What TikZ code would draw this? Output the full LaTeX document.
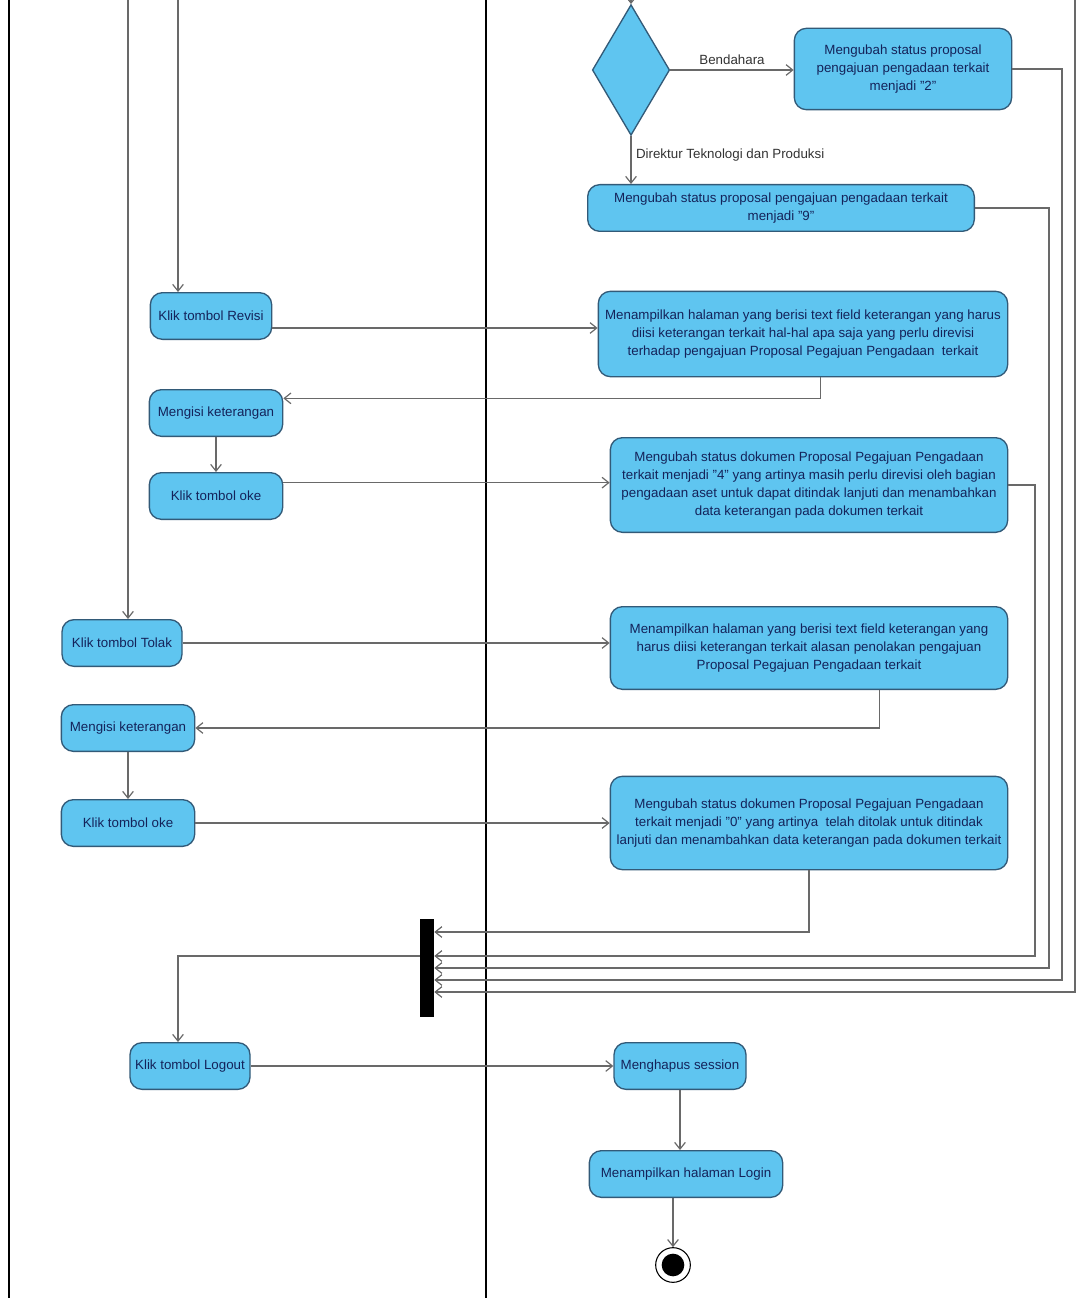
\documentclass[tikz,border=0pt]{standalone}
\usepackage{fontspec}
\setmainfont{Liberation Sans}
\usetikzlibrary{shapes.geometric,arrows.meta}
\definecolor{actfill}{RGB}{95,197,240}
\definecolor{actline}{RGB}{50,90,120}
\definecolor{acttext}{RGB}{20,35,90}
\definecolor{flowgray}{RGB}{105,105,105}
\tikzset{
  act/.style={draw=actline,fill=actfill,line width=1pt,rounded corners=9pt,
    text=acttext,font=\fontsize{10}{13.5}\selectfont,align=center,
    minimum height=35pt,inner sep=1pt},
  flow/.style={draw=flowgray,line width=0.9pt,-{Straight Barb[length=5pt,width=8pt]}},
  lane/.style={line width=1.4pt,black},
  guard/.style={font=\fontsize{10}{12}\selectfont,text=black!80}
}
\begin{document}
\begin{tikzpicture}[x=0.75pt,y=-0.75pt]
  \useasboundingbox (0,0) rectangle (1089,1298);
  \draw[lane] (9,0) -- (9,1298);
  \draw[lane] (486,0) -- (486,1298);

  % left lane
  \node[act,minimum width=91pt] (revisi) at (211,316) {Klik tombol Revisi};
  \node[act,minimum width=100pt] (isi1) at (216,413) {Mengisi keterangan};
  \node[act,minimum width=100pt] (oke1) at (216,496) {Klik tombol oke};
  \node[act,minimum width=90pt] (tolak) at (122,643) {Klik tombol Tolak};
  \node[act,minimum width=100pt] (isi2) at (128,728) {Mengisi keterangan};
  \node[act,minimum width=100pt] (oke2) at (128,823) {Klik tombol oke};
  \node[act,minimum width=90pt] (logout) at (190,1066) {Klik tombol Logout};

  % right lane
  \node[diamond,draw=actline,fill=actfill,line width=1pt,inner sep=0,
    minimum width=58pt,minimum height=98pt] (dec) at (631,70) {};
  \node[act,minimum width=163pt,minimum height=61pt] (box2) at (903,69)
    {Mengubah status proposal\\ pengajuan pengadaan terkait\\ menjadi "2"};
  \node[act,minimum width=290pt] (box9) at (781,208)
    {Mengubah status proposal pengajuan pengadaan terkait\\ menjadi "9"};
  \node[act,minimum width=307pt,minimum height=64pt] (revbox) at (803,334)
    {Menampilkan halaman yang berisi text field keterangan yang harus\\
     diisi keterangan terkait hal-hal apa saja yang perlu direvisi\\
     terhadap pengajuan Proposal Pegajuan Pengadaan\ \ terkait};
  \node[act,minimum width=298pt,minimum height=71pt] (box4) at (809,485)
    {Mengubah status dokumen Proposal Pegajuan Pengadaan\\
     terkait menjadi "4" yang artinya masih perlu direvisi oleh bagian\\
     pengadaan aset untuk dapat ditindak lanjuti dan menambahkan\\
     data keterangan pada dokumen terkait};
  \node[act,minimum width=298pt,minimum height=62pt] (tolbox) at (809,648)
    {Menampilkan halaman yang berisi text field keterangan yang\\
     harus diisi keterangan terkait alasan penolakan pengajuan\\
     Proposal Pegajuan Pengadaan terkait};
  \node[act,minimum width=298pt,minimum height=70pt] (box0) at (809,823)
    {Mengubah status dokumen Proposal Pegajuan Pengadaan\\
     terkait menjadi "0" yang artinya\ \ telah ditolak untuk ditindak\\
     lanjuti dan menambahkan data keterangan pada dokumen terkait};
  \node[act,minimum width=99pt] (hapus) at (680,1066) {Menghapus session};
  \node[act,minimum width=145pt] (login) at (686,1174) {Menampilkan halaman Login};
  \node[circle,draw=black,fill=white,line width=0.8pt,minimum size=26pt,inner sep=0] (final) at (673,1265) {};
  \fill[black] (final) circle (8.5pt);

  \node[fill=black,minimum width=10.5pt,minimum height=73pt,inner sep=0] (bar) at (427,968) {};

  % free ends coming from above
  \coordinate (inA) at (178,0);
  \coordinate (inB) at (128,0);
  \coordinate (inC) at (631,0);
  \coordinate (inD) at (1075,0);

  \draw[flow] (inA) -- (inA |- revisi.north);
  \draw[flow] (inB) -- (inB |- tolak.north);
  \draw[flow] (inC) -- (dec.north);
  \draw[flow] (dec.east) -- (dec.east -| box2.west) node[guard,midway,above] {Bendahara};
  \draw[flow] (dec.south) -- (dec.south |- box9.north)
    node[guard,pos=0.4,right] {Direktur Teknologi dan Produksi};

  \draw[flow] ([yshift=-9pt]revisi.east) -- ([yshift=-9pt]revisi.east -| revbox.west);
  \draw[flow] ([xshift=13pt]revbox.south) |- ([yshift=11pt]isi1.east);
  \draw[flow] (isi1) -- (oke1);
  \draw[flow] ([yshift=10pt]oke1.east) -- ([yshift=10pt]oke1.east -| box4.west);
  \draw[flow] (tolak.east) -- (tolak.east -| tolbox.west);
  \draw[flow] ([xshift=53pt]tolbox.south) |- (isi2.east);
  \draw[flow] (isi2) -- (oke2);
  \draw[flow] (oke2.east) -- (oke2.east -| box0.west);

  % into the join bar
  \draw[flow] (box0.south) |- (bar.east |- 0,932);
  \draw[flow] (box4.east) -| (1035,956) -- (bar.east |- 0,956);
  \draw[flow] (box9.east) -| (1049,968) -- (bar.east |- 0,968);
  \draw[flow] (box2.east) -| (1062,980) -- (bar.east |- 0,980);
  \draw[flow] (inD) |- (bar.east |- 0,992);
  \draw[flow] (bar.west |- 0,956) -| ([xshift=-9pt]logout.north);

  \draw[flow] (logout) -- (hapus);
  \draw[flow] (hapus.south) -- (hapus.south |- login.north);
  \draw[flow] (login.south -| final) -- (final);
\end{tikzpicture}
\end{document}
